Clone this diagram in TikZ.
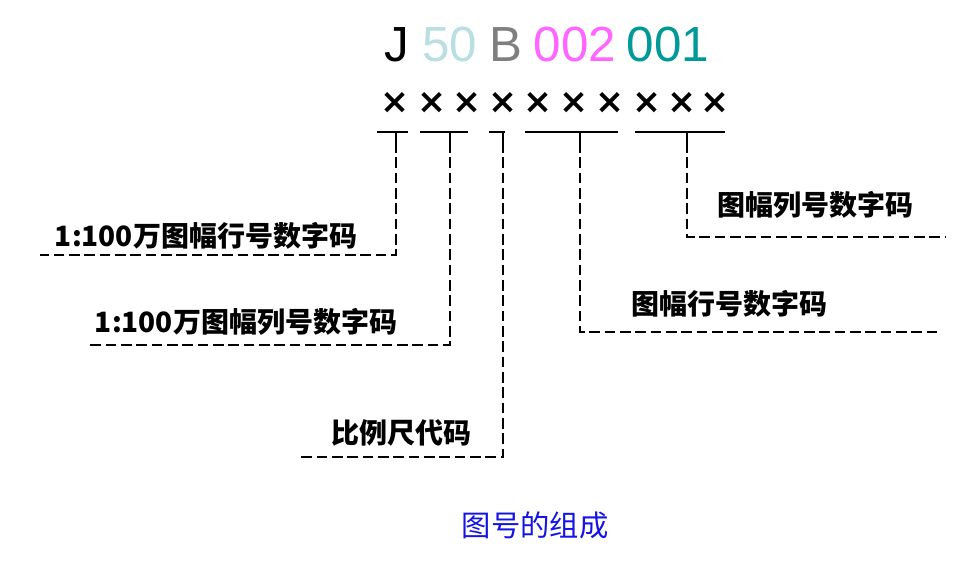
\documentclass[tikz,border=0pt]{standalone}
\usepackage{fontspec}
\setmainfont{Liberation Sans}
\newfontfamily\cjk{Noto Sans CJK SC}
\newfontfamily\symb{DejaVu Sans}
\usepackage{tikz}
\usetikzlibrary{positioning}
\definecolor{codeCyan}{HTML}{B9DFE2}
\definecolor{codeGray}{HTML}{7F7F7F}
\definecolor{codePink}{HTML}{FF66FF}
\definecolor{codeTeal}{HTML}{009999}
\definecolor{capBlue}{HTML}{1414E6}

\begin{document}
\begin{tikzpicture}[
  x=0.75pt, y=-0.75pt,
  code/.style={font=\fontsize{37}{37}\selectfont, inner sep=0pt, anchor=base},
  xmark/.style={font=\symb\bfseries\fontsize{26}{26}\selectfont, inner sep=0pt},
  uline/.style={line width=1.4pt},
  tick/.style={line width=1.2pt},
  lead/.style={line width=1.3pt, dash pattern=on 8pt off 3.5pt},
  lab/.style={font=\cjk\bfseries\fontsize{21}{21}\selectfont, inner sep=0pt},
]
\useasboundingbox (0,0) rectangle (960,563);
% map number
\node[code] (cJ) at (397,62) {J};
\node[code, text=codeCyan] (c50) at (450,62) {50};
\node[code, text=codeGray] (cB) at (506,62) {B};
\node[code, text=codePink] (c002) at (575,62) {002};
\node[code, text=codeTeal] (c001) at (668,62) {001};
% digit places
\foreach \x [count=\i] in {395,432,467,503,538,574,610,647,682,715}
  \node[xmark] (m\i) at (\x,103) {×};
% groups
\draw[uline] (377,132) -- (408,132);
\draw[uline] (420,132) -- (468,132);
\draw[uline] (489,132) -- (505,132);
\draw[uline] (525,132) -- (618,132);
\draw[uline] (635,132) -- (725,132);
\coordinate (g1) at (396,132);
\coordinate (g2) at (450,132);
\coordinate (g3) at (503,132);
\coordinate (g4) at (580,132);
\coordinate (g5) at (687,132);
\foreach \i in {1,...,5}
  \draw[tick] (g\i) -- ++(0,10) coordinate (t\i);
% labels
\node[lab] (l1) at (206,236) {1:100万图幅行号数字码};
\node[lab] (l2) at (246,322) {1:100万图幅列号数字码};
\node[lab] (l3) at (401,433) {比例尺代码};
\node[lab] (l4) at (729,304) {图幅行号数字码};
\node[lab] (l5) at (815,205) {图幅列号数字码};
\coordinate (e1) at (40,255);
\coordinate (e2) at (88,345);
\coordinate (e3) at (297,457);
\coordinate (e4) at (940,332);
\coordinate (e5) at (945,237);
\foreach \i in {1,...,5}
  \draw[lead] (t\i) |- (e\i);
% caption
\node[font=\cjk\fontsize{22}{22}\selectfont, text=capBlue] (cap) at (535,525) {图号的组成};
\end{tikzpicture}
\end{document}
